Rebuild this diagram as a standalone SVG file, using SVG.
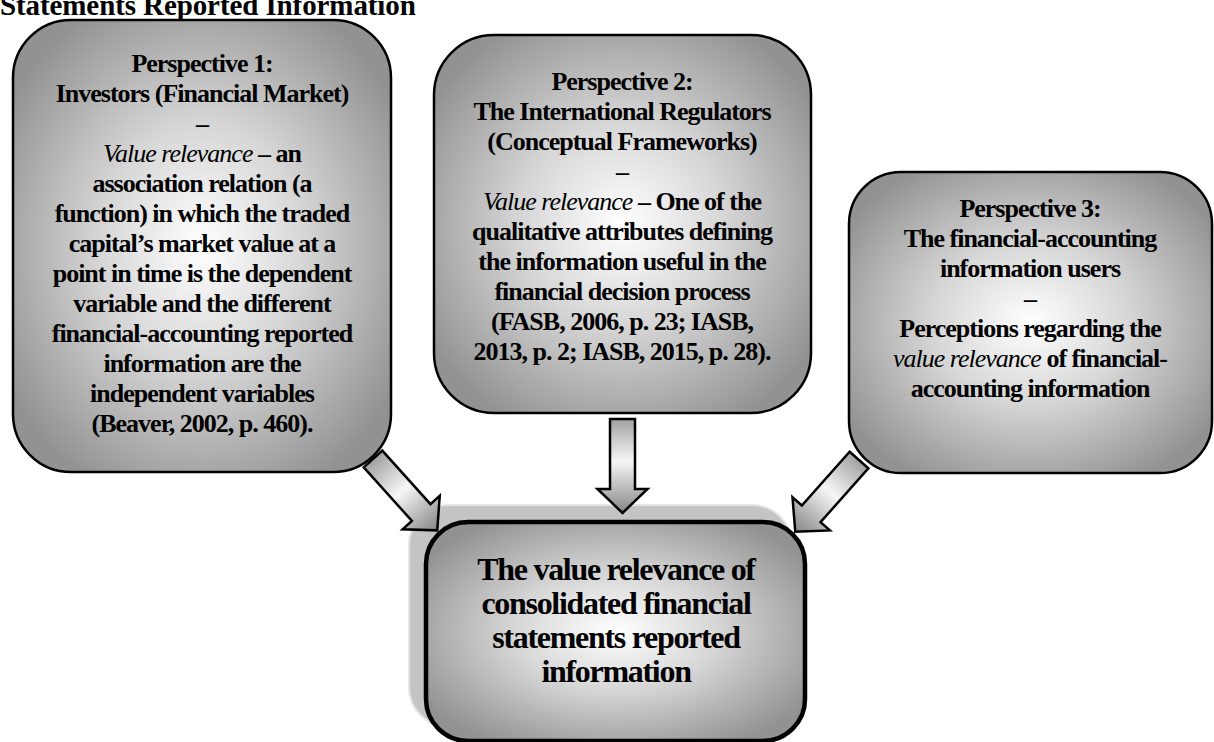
<svg xmlns="http://www.w3.org/2000/svg" width="1214" height="742" viewBox="0 0 1214 742">
<defs>
<radialGradient id="boxg" cx="0.5" cy="0.5" r="0.6">
<stop offset="0" stop-color="#ffffff"/>
<stop offset="0.45" stop-color="#d6d6d6"/>
<stop offset="1" stop-color="#929292"/>
</radialGradient>
<linearGradient id="arrg" x1="0" y1="0" x2="0" y2="1">
<stop offset="0" stop-color="#a2a2a2"/>
<stop offset="0.45" stop-color="#f6f6f6"/>
<stop offset="1" stop-color="#858585"/>
</linearGradient>
<style>
.box{fill:url(#boxg);stroke:#000;stroke-width:2.5}
.main{fill:url(#boxg);stroke:#000;stroke-width:4.5}
.glow{fill:#c4c4c4;stroke:#e4e4e4;stroke-width:2}
.arr{fill:url(#arrg);stroke:#000;stroke-width:2.5;stroke-linejoin:miter}
.t{font-family:"Liberation Serif","Times New Roman",serif;font-weight:bold;font-size:26px;letter-spacing:-1px;text-anchor:middle;fill:#000}
.i{font-style:italic;font-weight:normal}
.m{font-size:32px;letter-spacing:-1.3px}
.title{font-family:"Liberation Serif","Times New Roman",serif;font-weight:bold;font-size:29px;letter-spacing:-0.1px;fill:#000}
</style>
</defs>
<rect width="1214" height="742" fill="#ffffff"/>
<text class="title" x="0" y="15">Statements Reported Information</text>

<g id="p1">
<rect class="box" x="13" y="20" width="378" height="452" rx="58" ry="58"/>
<text class="t" x="202" y="72">Perspective 1:</text>
<text class="t" x="202" y="102">Investors (Financial Market)</text>
<text class="t" x="202" y="132">–</text>
<text class="t" x="202" y="162"><tspan class="i">Value relevance</tspan> – an</text>
<text class="t" x="202" y="192">association relation (a</text>
<text class="t" x="202" y="222">function) in which the traded</text>
<text class="t" x="202" y="252">capital’s market value at a</text>
<text class="t" x="202" y="282">point in time is the dependent</text>
<text class="t" x="202" y="312">variable and the different</text>
<text class="t" x="202" y="342">financial-accounting reported</text>
<text class="t" x="202" y="372">information are the</text>
<text class="t" x="202" y="402">independent variables</text>
<text class="t" x="202" y="432">(Beaver, 2002, p. 460).</text>
</g>

<g id="p2">
<rect class="box" x="434" y="35" width="377" height="378" rx="60" ry="60"/>
<text class="t" x="622" y="90">Perspective 2:</text>
<text class="t" x="622" y="120">The International Regulators</text>
<text class="t" x="622" y="150">(Conceptual Frameworks)</text>
<text class="t" x="622" y="180">–</text>
<text class="t" x="622" y="210"><tspan class="i">Value relevance</tspan> – One of the</text>
<text class="t" x="622" y="240">qualitative attributes defining</text>
<text class="t" x="622" y="270">the information useful in the</text>
<text class="t" x="622" y="300">financial decision process</text>
<text class="t" x="622" y="330">(FASB, 2006, p. 23; IASB,</text>
<text class="t" x="622" y="360">2013, p. 2; IASB, 2015, p. 28).</text>
</g>

<g id="p3">
<rect class="box" x="849" y="172" width="363" height="301" rx="52" ry="52"/>
<text class="t" x="1030" y="217">Perspective 3:</text>
<text class="t" x="1030" y="247">The financial-accounting</text>
<text class="t" x="1030" y="277">information users</text>
<text class="t" x="1030" y="307">–</text>
<text class="t" x="1030" y="337">Perceptions regarding the</text>
<text class="t" x="1030" y="367"><tspan class="i">value relevance</tspan> of financial-</text>
<text class="t" x="1030" y="397">accounting information</text>
</g>

<g id="result-glow">
<rect class="glow" x="409" y="505" width="383" height="222" rx="40" ry="40"/>
</g>

<g id="connectors">
<polygon class="arr" transform="translate(373,459) rotate(-42)" points="-12.5,0 12.5,0 12.5,72 25,72 0,96 -25,72 -12.5,72"/>
<polygon class="arr" transform="translate(622.5,419)" points="-12.5,0 12.5,0 12.5,70 25,70 0,94 -25,70 -12.5,70"/>
<polygon class="arr" transform="translate(859,460) rotate(41.6)" points="-12.5,0 12.5,0 12.5,72 25,72 0,96 -25,72 -12.5,72"/>
</g>

<g id="result">
<rect class="main" x="426" y="522" width="379" height="219" rx="42" ry="42"/>
<text class="t m" x="616" y="580">The value relevance of</text>
<text class="t m" x="616" y="614">consolidated financial</text>
<text class="t m" x="616" y="648">statements reported</text>
<text class="t m" x="616" y="682">information</text>
</g>
</svg>
